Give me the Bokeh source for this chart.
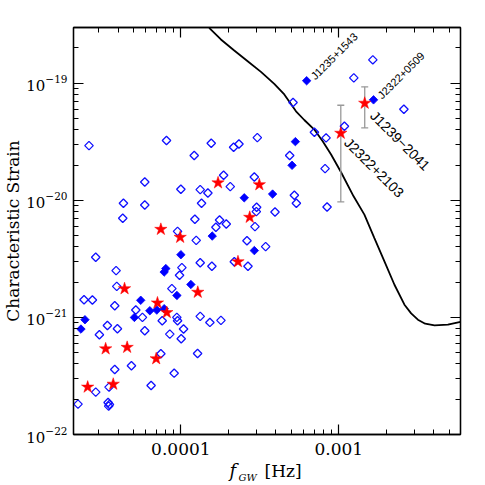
import math
from bokeh.plotting import figure
from bokeh.models import (LogAxis, FixedTicker, CustomJSTickFormatter, Label, Title, Range1d)
from bokeh.embed import file_html
from bokeh.resources import INLINE

# ---- data ----
open_f = [2.62e-5, 8.11e-5, 1.557e-4, 2.158e-4, 2.333e-4, 3.049e-4, 1.215e-4, 4.889e-4, 5.133e-4, 1.086e-3,
          1.245e-3, 1.643e-3, 2.584e-3, 7.01e-4, 8.31e-4, 8.19e-4, 5.233e-4, 5.389e-4, 8.43e-4, 1.865e-4,
          2.918e-4, 2.055e-4, 1.0e-4, 1.326e-4, 1.483e-4, 5.909e-5, 4.329e-5, 5.909e-5, 4.286e-5, 1.352e-4,
          1.227e-4, 3.019e-4, 3.005e-4, 3.946e-4, 1.758e-4, 1.667e-4, 1.939e-4, 2.947e-4, 9.53e-5, 1.251e-4,
          2.622e-4, 3.443e-4, 2.89e-5, 3.89e-5, 1.326e-4, 1.572e-4, 1.015e-4, 9.81e-5, 2.18e-4, 2.661e-4,
          3.927e-5, 8.77e-5, 2.437e-5, 2.753e-5, 3.814e-5, 5.184e-5, 5.711e-5, 5.909e-5, 3.049e-5, 3.966e-5,
          3.426e-5, 7.62e-5, 9.43e-5, 9.53e-5, 1.04e-4, 1.005e-4, 8.51e-5, 1.326e-4, 1.527e-4, 1.794e-4,
          1.276e-4, 7.47e-5, 4.865e-5, 3.814e-5, 6.48e-5, 9.07e-5, 2.89e-5, 2.232e-5, 3.51e-5, 3.46e-5,
          3.53e-5, 3.49e-5]
open_h = [2.93e-20, 3.24e-20, 3.07e-20, 2.84e-20, 3.03e-20, 3.43e-20, 2.41e-20, 2.41e-20, 6.84e-20, 4.29e-20,
          1.111e-19, 1.583e-19, 5.99e-20, 3.81e-20, 3.41e-20, 1.865e-20, 1.103e-20, 9.43e-21, 8.77e-21, 1.636e-20,
          1.583e-20, 1.308e-20, 1.242e-20, 1.234e-20, 1.155e-20, 1.435e-20, 9.43e-21, 9.12e-21, 7.02e-21, 9.43e-21,
          6.88e-21, 8.71e-21, 8.0e-21, 7.95e-21, 6.79e-21, 5.88e-21, 6.28e-21, 5.96e-21, 5.43e-21, 4.55e-21,
          4.52e-21, 4.02e-21, 3.26e-21, 2.51e-21, 2.93e-21, 2.73e-21, 2.66e-21, 2.29e-21, 2.99e-21, 2.73e-21,
          1.84e-21, 1.76e-21, 1.416e-21, 1.406e-21, 1.258e-21, 1.155e-21, 1.0e-21, 7.69e-22, 7.11e-22, 8.0e-22,
          8.54e-22, 9.37e-22, 1.0e-21, 9.37e-22, 7.95e-22, 6.57e-22, 7.2e-22, 1.02e-21, 9.06e-22, 9.43e-22,
          4.92e-22, 4.89e-22, 3.86e-22, 3.59e-22, 2.62e-22, 3.34e-22, 2.30e-22, 1.816e-22, 2.54e-22, 1.877e-22,
          1.805e-22, 1.747e-22]

filled_f = [2.33e-5, 2.47e-5, 5.57e-5, 5.08e-5, 6.36e-5, 7.04e-5, 7.84e-5, 7.84e-5, 8.03e-5, 9.44e-5,
            1.0e-4, 1.157e-4, 1.58e-4, 2.52e-4, 2.92e-4, 3.81e-4, 5.06e-4, 5.31e-4, 6.26e-4, 1.66e-3]
filled_h = [7.95e-22, 9.55e-22, 1.40e-21, 1.0e-21, 1.14e-21, 1.155e-21, 1.186e-21, 2.44e-21, 2.61e-21, 1.54e-21,
            3.43e-21, 1.91e-21, 4.95e-21, 1.05e-20, 3.72e-21, 1.13e-20, 1.99e-20, 3.17e-20, 1.05e-19, 7.21e-20]

star_f = [2.57e-5, 3.73e-5, 3.34e-5, 4.57e-5, 4.40e-5, 6.98e-5, 7.11e-5, 8.15e-5, 7.47e-5, 9.90e-5,
          1.28e-4, 1.72e-4, 2.30e-4, 2.73e-4, 3.14e-4, 1.03e-3, 1.46e-3]
star_h = [2.54e-22, 2.69e-22, 5.39e-22, 5.55e-22, 1.76e-21, 4.44e-22, 1.33e-21, 1.10e-21, 5.65e-21, 4.83e-21,
          1.64e-21, 1.41e-20, 2.99e-21, 7.16e-21, 1.36e-20, 3.74e-20, 6.75e-20]

err_f = [1.03e-3, 1.46e-3]
err_lo = [9.68e-21, 4.15e-20]
err_hi = [6.48e-20, 9.31e-20]

curve_f = [1.511e-4, 1.793e-4, 2.178e-4, 2.649e-4, 3.216e-4, 3.904e-4, 4.519e-4, 5.36e-4, 6.05e-4, 7.00e-4,
           7.91e-4, 8.94e-4, 1.034e-3, 1.241e-3, 1.453e-3, 1.681e-3, 1.946e-3, 2.252e-3, 2.606e-3, 2.873e-3,
           3.17e-3, 3.525e-3, 4.04e-3, 4.91e-3, 5.90e-3]
curve_h = [2.97e-19, 2.363e-19, 1.903e-19, 1.542e-19, 1.249e-19, 9.86e-20, 8.01e-20, 5.76e-20, 4.85e-20, 4.02e-20,
           3.19e-20, 2.46e-20, 1.735e-20, 1.082e-20, 7.55e-21, 4.76e-21, 3.01e-21, 1.90e-21, 1.284e-21, 1.082e-21,
           9.56e-22, 8.84e-22, 8.54e-22, 8.66e-22, 9.15e-22]

small_names = ["J1235+1543", "J2322+0509"]
small_f = [6.26e-4, 1.66e-3]
small_h = [1.05e-19, 7.21e-20]
big_names = ["J2322+2103", "J1239\u22122041"]
big_f = [1.03e-3, 1.46e-3]
big_h = [3.74e-20, 6.75e-20]

x_major = [1e-4, 1e-3]
y_major = [1e-22, 1e-21, 1e-20, 1e-19]

# ---- figure ----
p = figure(width=480, height=484, x_axis_type="log", y_axis_type="log",
           x_range=Range1d(2.09e-5, 5.9e-3), y_range=Range1d(1e-22, 2.99e-19),
           output_backend="svg", toolbar_location=None,
           min_border_left=73, min_border_right=20, min_border_top=27, min_border_bottom=50)
p.xgrid.visible = False
p.ygrid.visible = False
p.outline_line_color = "black"
p.outline_line_width = 1.3
p.background_fill_color = "white"
p.border_fill_color = "white"

x_minor = [m * 10.0 ** e for e in range(-5, -2) for m in range(1, 10)]
y_minor = [m * 10.0 ** e for e in range(-22, -18) for m in range(1, 10)]


def style(ax, labels=True):
    ax.major_tick_in = 10
    ax.major_tick_out = 0
    ax.minor_tick_in = 5
    ax.minor_tick_out = 0
    ax.axis_line_width = 1.3
    ax.axis_line_color = "black"
    ax.major_tick_line_width = 1.2
    ax.minor_tick_line_width = 1.0
    ax.major_tick_line_color = "black"
    ax.minor_tick_line_color = "black"
    ax.major_label_text_font = "DejaVu Serif"
    ax.major_label_text_color = "black"
    if not labels:
        ax.major_label_text_font_size = "1px"
        ax.major_label_standoff = 0
        ax.formatter = CustomJSTickFormatter(code="return ''")


xa = p.xaxis[0]
xa.ticker = FixedTicker(ticks=x_major, minor_ticks=x_minor)
xa.formatter = CustomJSTickFormatter(code="return tick.toPrecision(1)")
style(xa)
xa.major_label_text_font_size = "17px"
xa.major_label_standoff = 8
# invisible spacer label that pushes the axis-title row down a little
xa.axis_label = " "
xa.axis_label_text_font_size = "1px"
xa.axis_label_standoff = 9

ya = p.yaxis[0]
ya.ticker = FixedTicker(ticks=y_major, minor_ticks=y_minor)
style(ya)
ya.major_label_text_font_size = "15px"
ya.major_label_standoff = 6
ya.axis_label = "Characteristic Strain"
ya.axis_label_text_font = "DejaVu Serif"
ya.axis_label_text_font_size = "17px"
ya.axis_label_text_font_style = "normal"
ya.axis_label_text_color = "black"
ya.axis_label_standoff = 0

top = LogAxis(ticker=FixedTicker(ticks=x_major, minor_ticks=x_minor))
style(top, labels=False)
p.add_layout(top, "above")
right = LogAxis(ticker=FixedTicker(ticks=y_major, minor_ticks=y_minor))
style(right, labels=False)
p.add_layout(right, "right")

# ---- glyphs ----
p.line(curve_f, curve_h, line_color="black", line_width=1.8)
p.segment(x0=err_f, y0=err_lo, x1=err_f, y1=err_hi, line_color="#999999", line_width=1.3)
p.scatter(err_f + err_f, err_lo + err_hi, marker="dash", size=7, line_color="#999999", line_width=1.3)
p.scatter(open_f, open_h, marker="square", angle=math.pi / 4, size=6, fill_color=None,
          line_color="#1010ff", line_width=1.3)
p.scatter(filled_f, filled_h, marker="square", angle=math.pi / 4, size=6, fill_color="#0000ff",
          line_color="#0000ff", line_width=0.8)
p.scatter(star_f, star_h, marker="star", size=13, fill_color="#ff0000", line_color="#ff0000", line_width=0.5)

# ---- source labels ----
for name, f, h in zip(small_names, small_f, small_h):
    p.add_layout(Label(x=f, y=h, text=name, angle=math.pi / 4, x_offset=6, y_offset=3,
                       text_align="left", text_baseline="middle", text_font="Liberation Sans",
                       text_font_size="11px", text_color="black"))
big_off = [(6, -7), (8, -10)]
for (name, f, h), (dx, dy) in zip(zip(big_names, big_f, big_h), big_off):
    p.add_layout(Label(x=f, y=h, text=name, angle=-math.pi / 4, x_offset=dx, y_offset=dy,
                       text_align="left", text_baseline="middle", text_font="Liberation Sans",
                       text_font_size="14px", text_color="black"))

# ---- x-axis title  f_GW [Hz]  built from three titles in the bottom panel ----
def piece(text, size, style_, offset, standoff, valign="middle"):
    return Title(text=text, align="left", vertical_align=valign, offset=offset, standoff=standoff,
                 text_font="DejaVu Serif", text_font_size=size, text_font_style=style_,
                 text_color="black")


p.add_layout(piece("f", "18px", "italic", 156, -23), "below")
p.add_layout(piece("[Hz]", "17px", "normal", 191, -22), "below")
p.add_layout(piece("GW", "10px", "italic", 165, -2, "bottom"), "below")

open("out.html", "w").write(file_html(p, INLINE))
